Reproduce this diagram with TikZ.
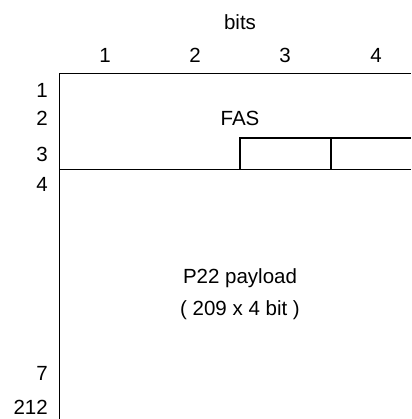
\documentclass[tikz,border=0pt]{standalone}
\usepackage{fontspec}
\setmainfont{Liberation Sans}
\begin{document}
\begin{tikzpicture}[x=1pt,y=-1pt,
  lbl/.style={font=\fontsize{20.5}{24}\selectfont, inner sep=0pt},
  rowlbl/.style={lbl, anchor=east},
  frame/.style={line width=1.4pt}]
\useasboundingbox (0,0) rectangle (411,419);
% labels
\node[lbl] (bits) at (240,22) {bits};
\node[lbl] (c1) at (105,55) {1};
\node[lbl] (c2) at (195,55) {2};
\node[lbl] (c3) at (285,55) {3};
\node[lbl] (c4) at (376,55) {4};
\node[rowlbl] (r1) at (48,90) {1};
\node[rowlbl] (r2) at (48,118) {2};
\node[rowlbl] (r3) at (48,154) {3};
\node[rowlbl] (r4) at (48,184) {4};
\node[rowlbl] (r7) at (48,373) {7};
\node[rowlbl] (r212) at (48,407) {212};
\node[lbl] (fas) at (240,118) {FAS};
\node[lbl] (pay1) at (240,278) {P22 payload};
\node[lbl] (pay2) at (240,310) {( 209 x 4 bit )};
% frame
\draw[frame] (59.5,419) -- (59.5,73.5) -- (411,73.5);
\draw[frame] (59.5,169.5) -- (411,169.5);
\draw[frame] (240,169.5) -- (240,138) -- (411,138);
\draw[frame] (331,138) -- (331,169.5);
\end{tikzpicture}
\end{document}
